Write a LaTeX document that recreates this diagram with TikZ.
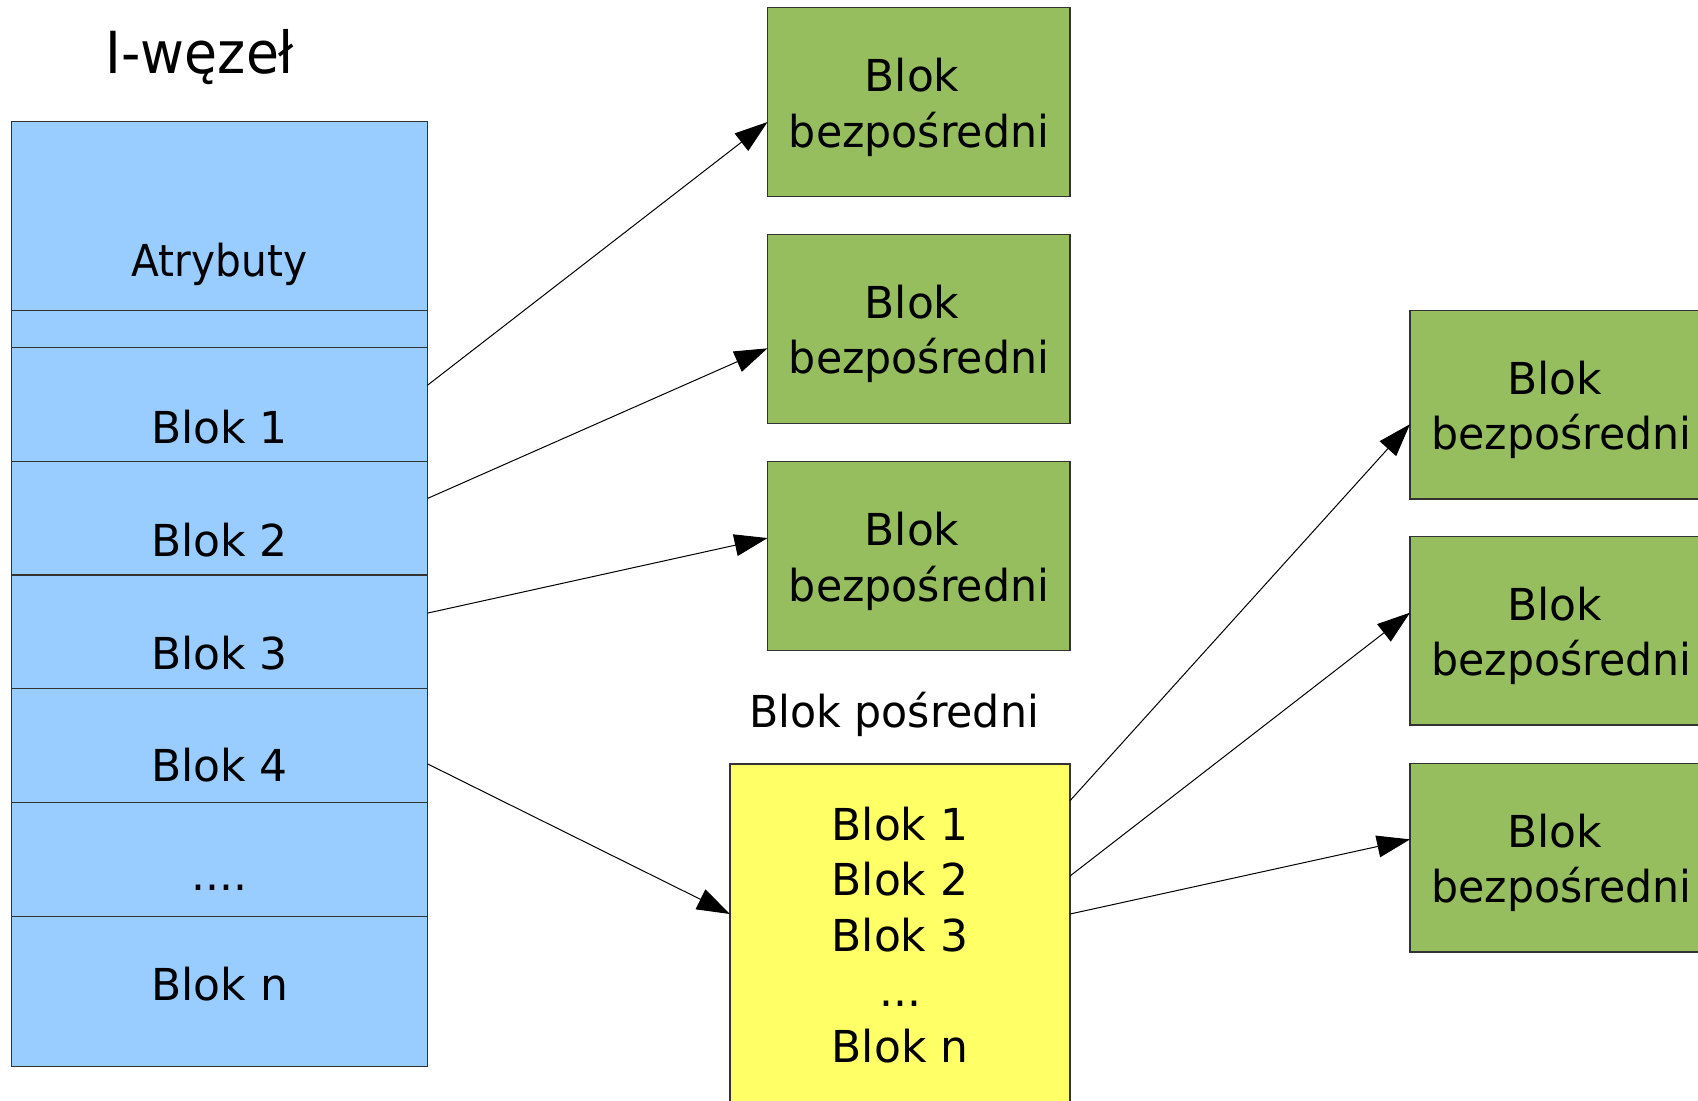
\documentclass[tikz,border=0pt]{standalone}
\usepackage{fontspec}
\setmainfont{DejaVu Sans}
\newfontfamily\slimfont[FakeStretch=0.97]{DejaVu Sans}
\newfontfamily\narrowfont[FakeStretch=0.925]{DejaVu Sans}
\usetikzlibrary{arrows.meta,fit}
\definecolor{inodeblue}{RGB}{153,204,255}
\definecolor{blkgreen}{RGB}{150,190,95}
\definecolor{indyellow}{RGB}{255,255,102}
\definecolor{edgegray}{RGB}{50,50,50}
\begin{document}
\begin{tikzpicture}[x=0.5pt,y=-0.5pt,
  cell/.style={draw=edgegray, line width=0.6pt, inner sep=0pt, outer sep=0pt},
  inodecell/.style={cell, fill=inodeblue},
  greenbox/.style={cell, fill=blkgreen},
  yellowbox/.style={cell, fill=indyellow},
  lbl/.style={inner sep=0pt, anchor=base, font=\fontsize{22pt}{28pt}\selectfont},
  slimlbl/.style={inner sep=0pt, anchor=base, font=\slimfont\fontsize{22pt}{28pt}\selectfont},
  narrowlbl/.style={inner sep=0pt, anchor=base, font=\narrowfont\fontsize{22pt}{28pt}\selectfont},
  titlelbl/.style={inner sep=0pt, anchor=base, font=\narrowfont\fontsize{29pt}{34pt}\selectfont},
  conn/.style={draw=black, line width=0.5pt, -{Triangle[length=16.5pt,width=11pt]}}
]
\useasboundingbox (0,0) rectangle (1698,1100);
\clip (0,0) rectangle (1698,1100);
\fill[white] (0,0) rectangle (1698,1100);

% I-node column
\node[inodecell, fit={(11.5,121.3) (427.7,310.8)}] (attr) {};
\node[inodecell, fit={(11.5,310.8) (427.7,347.6)}] (gap) {};
\node[inodecell, fit={(11.5,347.6) (427.7,461.3)}] (b1) {};
\node[inodecell, fit={(11.5,461.3) (427.7,575)}] (b2) {};
\node[inodecell, fit={(11.5,575) (427.7,688.7)}] (b3) {};
\node[inodecell, fit={(11.5,688.7) (427.7,802.4)}] (b4) {};
\node[inodecell, fit={(11.5,802.4) (427.7,916.1)}] (bdots) {};
\node[inodecell, fit={(11.5,916.1) (427.7,1066.7)}] (bn) {};

\node[titlelbl] (title) at (200,73.3) {I-węzeł};
\node[narrowlbl] (tattr) at (219.6,276.7) {Atrybuty};
\node[lbl] (tb1) at (219.6,443.5) {Blok 1};
\node[lbl] (tb2) at (219.6,556.5) {Blok 2};
\node[lbl] (tb3) at (219.6,669) {Blok 3};
\node[lbl] (tb4) at (219.6,781) {Blok 4};
\node[lbl] (tbdots) at (219.6,890) {....};
\node[lbl] (tbn) at (219.6,1000) {Blok n};

% direct blocks (left column)
\node[greenbox, fit={(767.5,7.3) (1070,196.7)}] (g1) {};
\node[greenbox, fit={(767.5,234.3) (1070,423.3)}] (g2) {};
\node[greenbox, fit={(767.5,461.3) (1070,650.8)}] (g3) {};
\foreach \n/\c in {g1/102, g2/328.8, g3/556} {
  \node[lbl] (\n a) at (919,\c-10.5) {Blok\hspace*{0.318em}};
  \node[slimlbl] (\n b) at (919,\c+45) {bezpośredni};
}

% indirect block
\node[slimlbl] (tind) at (894,727.3) {Blok pośredni};
\node[yellowbox, fit={(730,764) (1070,1120)}] (ind) {};
\node[lbl] (ti1) at (900,840) {Blok 1};
\node[lbl] (ti2) at (900,895.7) {Blok 2};
\node[lbl] (ti3) at (900,951.3) {Blok 3};
\node[lbl] (ti4) at (900,1006.9) {...};
\node[lbl] (ti5) at (900,1062.5) {Blok n};

% direct blocks (right column)
\node[greenbox, fit={(1410,310.5) (1713,499)}] (r1) {};
\node[greenbox, fit={(1410,536.7) (1713,725)}] (r2) {};
\node[greenbox, fit={(1410,763.5) (1713,952)}] (r3) {};
\foreach \n/\c in {r1/404.75, r2/630.85, r3/857.75} {
  \node[lbl] (\n a) at (1561.5,\c-10.5) {Blok\hspace*{0.318em}};
  \node[slimlbl] (\n b) at (1561.5,\c+45) {bezpośredni};
}

% connectors
\draw[conn] ([yshift=9.7pt]b1.east) -- ([yshift=-10pt]g1.west);
\draw[conn] ([yshift=9.9pt]b2.east) -- ([yshift=-9.75pt]g2.west);
\draw[conn] ([yshift=9.4pt]b3.east) -- ([yshift=9pt]g3.west);
\draw[conn] ([yshift=-9.2pt]b4.east) -- ([yshift=-75pt]ind.north west);
\draw[conn] ([yshift=-18.35pt]ind.north east) -- ([yshift=-9.7pt]r1.west);
\draw[conn] ([yshift=-56pt]ind.north east) -- ([yshift=9.1pt]r2.west);
\draw[conn] ([yshift=-75pt]ind.north east) -- ([yshift=9.2pt]r3.west);
\end{tikzpicture}
\end{document}
